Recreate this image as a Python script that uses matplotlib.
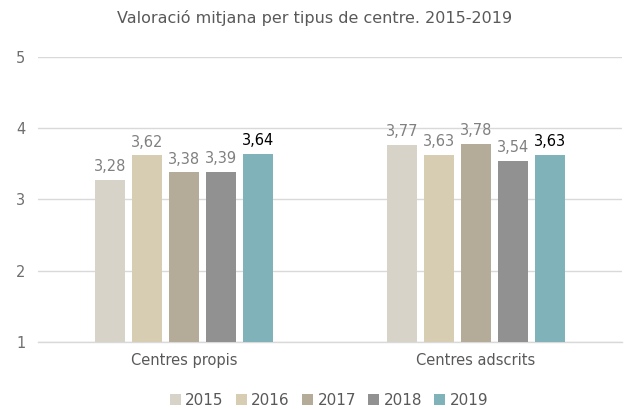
import matplotlib

matplotlib.use("Agg")
import matplotlib.pyplot as plt
import numpy as np

categories = ["Centres propis", "Centres adscrits"]
years = ["2015", "2016", "2017", "2018", "2019"]
values_2015 = [3.28, 3.77]
values_2016 = [3.62, 3.63]
values_2017 = [3.38, 3.78]
values_2018 = [3.39, 3.54]
values_2019 = [3.64, 3.63]
series = [values_2015, values_2016, values_2017, values_2018, values_2019]
colors = ["#D7D3C8", "#D6CDB3", "#B4AC98", "#919191", "#80B3B9"]

plt.rcParams["font.family"] = ["DejaVu Sans"]
grey = "#808080"

fig = plt.figure(figsize=(6.29, 4.09), dpi=100)
ax = fig.add_axes([38 / 629, 1 - 342 / 409, 584 / 629, 285 / 409])

x = np.arange(len(categories))
step = 0.1264
width = 0.101
for i, (yr, vals) in enumerate(zip(years, series)):
    pos = x + (i - 2) * step
    bars = ax.bar(pos, [v - 1 for v in vals], width, bottom=1, color=colors[i], label=yr, zorder=3)
    for b, v in zip(bars, vals):
        ax.text(b.get_x() + b.get_width() / 2, v + 0.08, f"{v:.2f}".replace(".", ","),
                ha="center", va="bottom", fontsize=10.5,
                color="black" if yr == "2019" else grey, zorder=4)

ax.set_xlim(-0.5, 1.5)
ax.set_ylim(1, 5)
ax.set_yticks([1, 2, 3, 4, 5])
ax.set_xticks(x)
ax.set_xticklabels(categories, fontsize=10.5, color="#595959")
ax.tick_params(axis="y", labelsize=10.5, colors="#6E6E6E", length=0, pad=9)
ax.tick_params(axis="x", length=0, pad=8)
ax.grid(axis="y", color="#D9D9D9", linewidth=1, zorder=0)
for s in ["top", "right", "left"]:
    ax.spines[s].set_visible(False)
ax.spines["bottom"].set_color("#D9D9D9")
ax.spines["bottom"].set_linewidth(1)

fig.text(0.5, 0.955, "Valoració mitjana per tipus de centre. 2015-2019", ha="center", va="center",
         fontsize=11.5, color="#595959")
fig.legend(loc="center", bbox_to_anchor=(329 / 629, 0.022), ncol=5, frameon=False, fontsize=11,
           handlelength=0.7, handleheight=0.7, handletextpad=0.3, columnspacing=0.8,
           labelcolor="#595959")

fig.savefig("out.png", dpi=100)
